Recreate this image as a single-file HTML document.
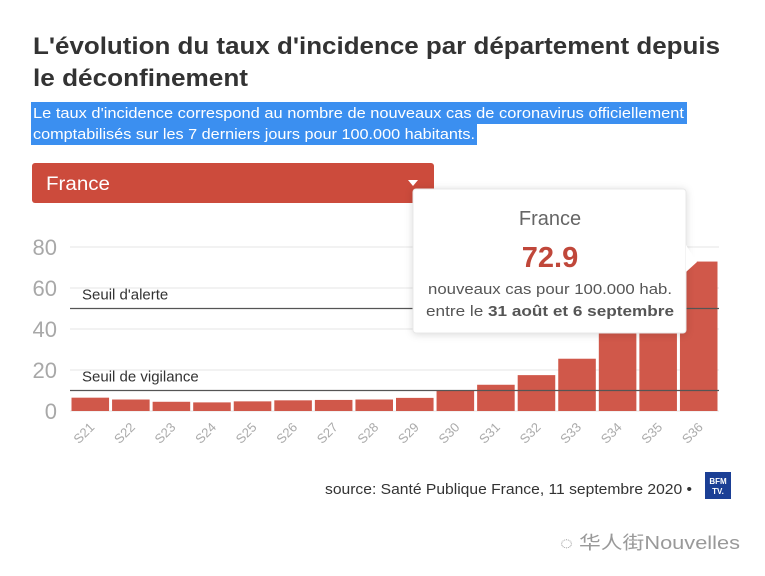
<!DOCTYPE html>
<html><head><meta charset="utf-8"><style>
html,body{margin:0;padding:0;background:#fff;}
svg{display:block;font-family:"Liberation Sans",sans-serif;}
</style></head><body>
<svg id="chart" width="765" height="576" viewBox="0 0 765 576">
<text x="33" y="54" font-size="24" font-weight="bold" fill="#333" textLength="687" lengthAdjust="spacingAndGlyphs">L'évolution du taux d'incidence par département depuis</text>
<text x="33" y="86" font-size="24" font-weight="bold" fill="#333" textLength="215" lengthAdjust="spacingAndGlyphs">le déconfinement</text>
<rect x="31" y="102" width="656" height="22" fill="#3b8ff0"/>
<rect x="31" y="124" width="446" height="21" fill="#3b8ff0"/>
<text x="33" y="118" font-size="15" fill="#fff" textLength="651" lengthAdjust="spacingAndGlyphs">Le taux d'incidence correspond au nombre de nouveaux cas de coronavirus officiellement</text>
<text x="33" y="139" font-size="15" fill="#fff" textLength="442" lengthAdjust="spacingAndGlyphs">comptabilisés sur les 7 derniers jours pour 100.000 habitants.</text>
<g>
<rect x="32" y="163" width="402" height="40" rx="3" fill="#cc4b3c"/>
<text x="46" y="190" font-size="19" fill="#fff" textLength="64" lengthAdjust="spacingAndGlyphs">France</text>
<path d="M408,180 L418,180 L413,186 Z" fill="#fff"/>
</g>
<g id="grid"></g>
<g id="bars"></g>
<g id="xlabels"></g>
<g>
<rect x="413" y="189" width="273" height="144" rx="3" fill="#fff" stroke="#e8e8e8" style="filter:drop-shadow(0 1px 4px rgba(0,0,0,0.15))"/>
<path d="M686,245 L697,262 L686,272 Z" fill="#fff"/>
<text x="550" y="225" font-size="20" fill="#666" text-anchor="middle">France</text>
<text x="550" y="267" font-size="29" font-weight="bold" fill="#c0473a" text-anchor="middle">72.9</text>
<text x="550" y="294" font-size="15" fill="#555" text-anchor="middle" textLength="244" lengthAdjust="spacingAndGlyphs">nouveaux cas pour 100.000 hab.</text>
<text x="550" y="316" font-size="15" fill="#555" text-anchor="middle" textLength="248" lengthAdjust="spacingAndGlyphs">entre le <tspan font-weight="bold">31 août et 6 septembre</tspan></text>
</g>
<text x="692" y="494" font-size="15" fill="#333" text-anchor="end" textLength="367" lengthAdjust="spacingAndGlyphs">source: Santé Publique France, 11 septembre 2020 •</text>
<g>
<rect x="705" y="472" width="26" height="27" fill="#1b3f95"/>
<text x="718" y="484" font-size="8" font-weight="bold" fill="#fff" text-anchor="middle">BFM</text>
<text x="718" y="494" font-size="8" font-weight="bold" fill="#fff" text-anchor="middle">TV.</text>
</g>
<text x="560" y="549" font-size="18" fill="#999" textLength="180" lengthAdjust="spacingAndGlyphs" font-family="'Liberation Sans','Noto Sans CJK SC',sans-serif">◌ 华人街Nouvelles</text>
</svg>
<script>
const categories = ["S21","S22","S23","S24","S25","S26","S27","S28","S29","S30","S31","S32","S33","S34","S35","S36"];
const values = [6.5,5.6,4.5,4.2,4.7,5.2,5.4,5.6,6.4,10,12.8,17.5,25.5,39,51,72.9];
const yTicks = [0,20,40,60,80];
const thresholds = [50,10];
const thresholdLabels = ["Seuil d'alerte","Seuil de vigilance"];
const NS="http://www.w3.org/2000/svg";
const L=70,R=719,T=247,B=411,yMax=80;
const y=v=>B-(v/yMax)*(B-T);
const slot=(R-L)/categories.length;
const x=i=>L+i*slot;
function mk(tag,attrs,parent){const e=document.createElementNS(NS,tag);for(const k in attrs)e.setAttribute(k,attrs[k]);parent.appendChild(e);return e;}
const grid=document.getElementById('grid');
yTicks.forEach(t=>{
  const ln=mk('line',{x1:L,x2:R,y1:y(t),y2:y(t),stroke:'#e6e6e6','stroke-width':1},grid);
  
  
  const tx=mk('text',{x:57,y:y(t)+8,'font-size':22,fill:'#a8a8a8','text-anchor':'end'},grid);
  tx.textContent=t;
  
  
});
const bars=document.getElementById('bars');
values.forEach((v,i)=>{
  const r=mk('rect',{x:x(i)+1.5,y:y(v),width:slot-3,height:B-y(v),fill:'#d0584a'},bars);
  
  
});
thresholds.forEach((t,i)=>{
  const ln=mk('line',{x1:L,x2:R,y1:y(t),y2:y(t),stroke:'#555','stroke-width':1.3},bars);
  
  
  const tx=mk('text',{x:82,y:y(t)-9,'font-size':15,fill:'#333'},bars);
  tx.textContent=thresholdLabels[i];
  
  
});
const xl=document.getElementById('xlabels');
categories.forEach((c,i)=>{
  const cx=x(i)+slot/2+5, cy=428;
  const tx=mk('text',{x:cx,y:cy,'font-size':13,fill:'#aaa','text-anchor':'end',transform:`rotate(-45 ${cx} ${cy})`},xl);
  tx.textContent=c;
  
  
});
</script>
</body></html>
